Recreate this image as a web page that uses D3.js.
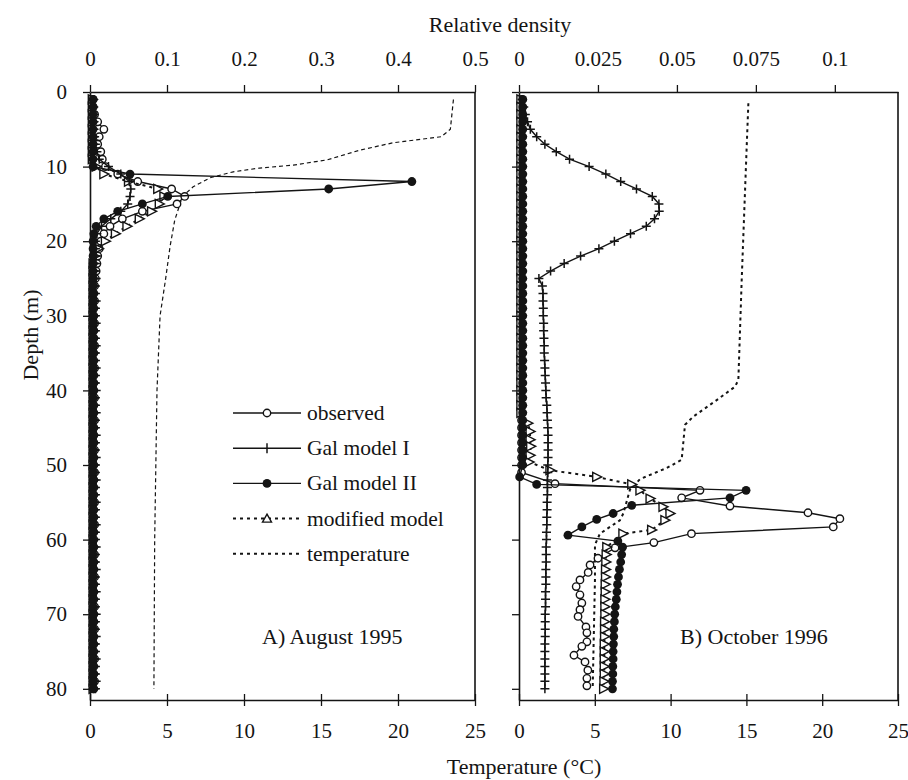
<!DOCTYPE html>
<html>
<head>
<meta charset="utf-8">
<script src="https://cdn.jsdelivr.net/npm/d3@7"></script>
<style>
  body { margin: 0; background: #fff; }
  svg text { font-family: "Liberation Serif", "Tinos", "Times New Roman", "DejaVu Serif", serif !important; }
</style>
</head>
<body>
<div id="wrapper"></div>
<script>
// axis ticks
const depthTicks = [0, 10, 20, 30, 40, 50, 60, 70, 80];
const tempTicks = [0, 5, 10, 15, 20, 25];
const densityTicksA = [0, 0.1, 0.2, 0.3, 0.4, 0.5];
const densityLabelsA = ["0", "0.1", "0.2", "0.3", "0.4", "0.5"];
const densityTicksB = [0, 0.025, 0.05, 0.075, 0.1];
const densityLabelsB = ["0", "0.025", "0.05", "0.075", "0.1"];

const legendNames = ["observed", "Gal model I", "Gal model II", "modified model", "temperature"];

// A) August 1995 : depth (m) and relative density
const depthA = [1,2,3,4,5,6,7,8,9,10,11,12,13,14,15,16,17,18,19,20,
  21,22,23,24,25,26,27,28,29,30,31,32,33,34,35,36,37,38,39,40,
  41,42,43,44,45,46,47,48,49,50,51,52,53,54,55,56,57,58,59,60,
  61,62,63,64,65,66,67,68,69,70,71,72,73,74,75,76,77,78,79,80];
const observedA = [0.004,0.004,0.006,0.010,0.018,0.012,0.010,0.014,0.016,0.020,
  0.036,0.062,0.106,0.123,0.113,0.068,0.042,0.026,0.018,0.014,
  0.012,0.010,0.009,0.008,0.007,0.006,0.005,0.006,0.005,0.005,
  0.006,0.005,0.005,0.006,0.005,0.005,0.006,0.005,0.005,0.005,
  0.006,0.005,0.005,0.006,0.005,0.005,0.005,0.006,0.005,0.005,
  0.006,0.005,0.005,0.005,0.006,0.005,0.005,0.006,0.005,0.005,
  0.005,0.006,0.005,0.005,0.006,0.005,0.005,0.005,0.006,0.005,
  0.005,0.006,0.005,0.005,0.005,0.006,0.005,0.005,0.006,0.005];
const galIA = [0.004,0.004,0.004,0.005,0.005,0.006,0.007,0.009,0.012,0.024,
  0.040,0.051,0.053,0.052,0.049,0.040,0.027,0.015,0.009,0.007,
  0.007,0.008,0.007,0.007,0.008,0.007,0.007,0.008,0.007,0.007,
  0.008,0.007,0.007,0.008,0.007,0.007,0.008,0.007,0.007,0.008,
  0.007,0.007,0.008,0.007,0.007,0.008,0.007,0.007,0.008,0.007,
  0.007,0.008,0.007,0.007,0.008,0.007,0.007,0.008,0.007,0.007,
  0.008,0.007,0.007,0.008,0.007,0.007,0.008,0.007,0.007,0.008,
  0.007,0.007,0.008,0.007,0.007,0.008,0.007,0.007,0.008,0.007];
const galIIA = [0.004,0.004,0.004,0.004,0.004,0.004,0.004,0.004,0.004,0.004,
  0.052,0.418,0.310,0.101,0.068,0.036,0.018,0.008,0.005,0.004,
  0.004,0.004,0.004,0.004,0.004,0.004,0.004,0.004,0.004,0.004,
  0.004,0.004,0.004,0.004,0.004,0.004,0.004,0.004,0.004,0.004,
  0.004,0.004,0.004,0.004,0.004,0.004,0.004,0.004,0.004,0.004,
  0.004,0.004,0.004,0.004,0.004,0.004,0.004,0.004,0.004,0.004,
  0.004,0.004,0.004,0.004,0.004,0.004,0.004,0.004,0.004,0.004,
  0.004,0.004,0.004,0.004,0.004,0.004,0.004,0.004,0.004,0.004];
const modifiedA = [0.003,0.003,0.003,0.003,0.003,0.003,0.003,0.003,0.003,0.008,
  0.018,0.050,0.088,0.096,0.090,0.080,0.064,0.048,0.033,0.020,
  0.011,0.006,0.004,0.004,0.004,0.004,0.004,0.004,0.004,0.004,
  0.004,0.004,0.004,0.004,0.004,0.004,0.004,0.004,0.004,0.004,
  0.004,0.004,0.004,0.004,0.004,0.004,0.004,0.004,0.004,0.004,
  0.004,0.004,0.004,0.004,0.004,0.004,0.004,0.004,0.004,0.004,
  0.004,0.004,0.004,0.004,0.004,0.004,0.004,0.004,0.004,0.004,
  0.004,0.004,0.004,0.004,0.004,0.004,0.004,0.004,0.004,0.004];
// temperature (°C) profile A
const tempDepthA = [1, 5, 6, 6.8, 7.8, 9.1, 9.8, 10.2, 10.7, 11.5, 12.7, 14, 17.2, 20.7, 25.2, 30, 40, 60, 80];
const tempA = [23.6, 23.4, 22.8, 19.7, 17.5, 15.4, 13.2, 11.0, 9.3, 7.8, 6.7, 6.0, 5.5, 5.2, 4.9, 4.55, 4.35, 4.2, 4.15];

// B) October 1996
const depthB = [1,2,3,4,5,6,7,8,9,10,11,12,13,14,15,16,17,18,19,20,
  21,22,23,24,25,26,27,28,29,30,31,32,33,34,35,36,37,38,39,40,
  41,42,43,44,45,46,47,48,49,50,51,52,53,54,55,56,57,58,59,60,
  61,62,63,64,65,66,67,68,69,70,71,72,73,74,75,76,77,78,79,80];
const galIB = [0.0010,0.0015,0.0020,0.0027,0.0036,0.0056,0.0082,0.0118,0.0160,0.0222,
  0.0275,0.0322,0.0372,0.0422,0.0443,0.0444,0.0429,0.0403,0.0353,0.0302,
  0.0253,0.0195,0.0143,0.0100,0.0063,0.0074,0.0076,0.0076,0.0077,0.0077,
  0.0078,0.0078,0.0079,0.0080,0.0080,0.0081,0.0082,0.0083,0.0084,0.0085,
  0.0086,0.0088,0.0089,0.0090,0.0091,0.0092,0.0092,0.0092,0.0092,0.0091,
  0.0091,0.0090,0.0090,0.0090,0.0089,0.0089,0.0088,0.0088,0.0087,0.0087,
  0.0086,0.0086,0.0086,0.0085,0.0085,0.0085,0.0084,0.0084,0.0084,0.0083,
  0.0083,0.0083,0.0083,0.0082,0.0082,0.0082,0.0082,0.0082,0.0082,0.0082];

const obsDepthB = [1,2,3,4,5,6,7,8,9,10,11,12,13,14,15,16,17,18,19,20,
  21,22,23,24,25,26,27,28,29,30,31,32,33,34,35,36,37,38,39,40,
  41,42,43,44,45,46,47,48,49,50,51,
  52.5,53.4,54.4,55.5,56.4,57.2,58.3,59.2,60.4,61.1,62.5,63.4,64.4,65.4,66.3,67.4,68.5,
  69.4,70.3,71.7,72.5,73.7,74.3,75.5,76.4,77.5,78.6,79.6];
const observedB = [0.0008,0.0008,0.0008,0.0008,0.0008,0.0008,0.0008,0.0008,0.0008,0.0008,
  0.0008,0.0008,0.0008,0.0008,0.0008,0.0008,0.0008,0.0008,0.0008,0.0008,
  0.0008,0.0008,0.0008,0.0008,0.0008,0.0008,0.0008,0.0008,0.0008,0.0008,
  0.0008,0.0008,0.0008,0.0008,0.0008,0.0008,0.0008,0.0008,0.0008,0.0008,
  0.0008,0.0008,0.0008,0.0008,0.0008,0.0008,0.0008,0.0008,0.0008,0.0008,0.0008,
  0.0114,0.0573,0.0515,0.0668,0.0915,0.1016,0.0995,0.0546,0.0427,0.0304,0.0250,0.0225,
  0.0219,0.0193,0.0181,0.0193,0.0199,0.0193,0.0187,0.0212,0.0215,0.0215,0.0199,0.0174,
  0.0209,0.0218,0.0215,0.0215];

const galIIDepthB = [1,2,3,4,5,6,7,8,9,10,11,12,13,14,15,16,17,18,19,20,
  21,22,23,24,25,26,27,28,29,30,31,32,33,34,35,36,37,38,39,40,
  41,42,43,44,45,46,47,48,49,50,
  51.6,52.6,53.4,54.4,55.4,56.5,57.3,58.3,59.4,60.2,
  61,62,63,64,65,66,67,68,69,70,71,72,73,74,75,76,77,78,79,80];
const galIIB = [0.0012,0.0012,0.0012,0.0012,0.0012,0.0012,0.0012,0.0012,0.0012,0.0012,
  0.0012,0.0012,0.0012,0.0012,0.0012,0.0012,0.0012,0.0012,0.0012,0.0012,
  0.0012,0.0012,0.0012,0.0012,0.0012,0.0012,0.0012,0.0012,0.0012,0.0012,
  0.0012,0.0012,0.0012,0.0012,0.0012,0.0012,0.0012,0.0012,0.0012,0.0012,
  0.0012,0.0012,0.0012,0.0012,0.0012,0.0012,0.0012,0.0012,0.0012,0.0012,
  0.0002,0.0056,0.0719,0.0668,0.0357,0.0298,0.0246,0.0199,0.0155,0.0313,
  0.0328,0.0325,0.0322,0.0318,0.0315,0.0312,0.0310,0.0308,0.0305,0.0303,
  0.0302,0.0300,0.0300,0.0299,0.0298,0.0298,0.0297,0.0297,0.0296,0.0296];

const modDepthB = [1,2,3,4,5,6,7,8,9,10,11,12,13,14,15,16,17,18,19,20,
  21,22,23,24,25,26,27,28,29,30,31,32,33,34,35,36,37,38,39,40,41,42,43,
  44.4,45.5,46.6,47.5,48.7,49.6,50.7,51.6,52.6,53.4,54.5,55.6,56.5,57.4,58.7,59.2,
  61,62,63,64,65,66,67,68,69,70,71,72,73,74,75,76,77,78,79,80];
const modifiedB = [0.0006,0.0006,0.0006,0.0006,0.0006,0.0006,0.0006,0.0006,0.0006,0.0006,
  0.0006,0.0006,0.0006,0.0006,0.0006,0.0006,0.0006,0.0006,0.0006,0.0006,
  0.0006,0.0006,0.0006,0.0006,0.0006,0.0006,0.0006,0.0006,0.0006,0.0006,
  0.0006,0.0006,0.0006,0.0006,0.0006,0.0006,0.0006,0.0006,0.0006,0.0006,0.0006,0.0006,0.0006,
  0.0028,0.0035,0.0035,0.0037,0.0035,0.0032,0.0098,0.0246,0.0357,0.0383,0.0415,0.0456,0.0478,0.0462,0.0420,0.0329,
  0.0278,0.0276,0.0275,0.0274,0.0274,0.0273,0.0273,0.0272,0.0272,0.0272,
  0.0271,0.0271,0.0271,0.0270,0.0270,0.0270,0.0270,0.0270,0.0269,0.0268];

const tempDepthB = [1.5, 7.3, 25.2, 38.6, 39.5, 41.3, 43.5, 44.6, 49.3, 50.4, 51.9, 53.3, 56.5, 57.4, 59.2, 60.7, 65.4, 80];
const tempB = [15.13, 15.02, 14.69, 14.47, 14.25, 13.04, 11.5, 10.95, 10.73, 9.74, 7.98, 7.32, 6.88, 6.66, 5.34, 5.01, 5.01, 4.86];

const ink = "#141414";

const dimensions = { width: 908, height: 780, top: 92, bottom: 700 };

const wrapper = d3.select("#wrapper")
  .append("svg")
  .attr("width", dimensions.width)
  .attr("height", dimensions.height);

const yScale = d3.scaleLinear()
  .domain([0, 81.5])
  .range([dimensions.top, dimensions.bottom]);

const panels = [
  {
    left: 90, right: 475, densityMax: 0.5,
    densityTicks: densityTicksA, densityLabels: densityLabelsA,
    depthLabels: true, label: "A) August 1995", labelX: 262,
    observed: [depthA, observedA], galI: [depthA, galIA], galII: [depthA, galIIA],
    modified: [depthA, modifiedA], temperature: [tempDepthA, tempA],
    tempWidth: 1.2, tempDash: "4,3",
  },
  {
    left: 519, right: 898, densityMax: 0.12,
    densityTicks: densityTicksB, densityLabels: densityLabelsB,
    depthLabels: false, label: "B) October 1996", labelX: 680,
    observed: [obsDepthB, observedB], galI: [depthB, galIB], galII: [galIIDepthB, galIIB],
    modified: [modDepthB, modifiedB], temperature: [tempDepthB, tempB],
    tempWidth: 2, tempDash: "3,3.5",
  },
];

// marker shapes
function addMarker(g, type, x, y, legend) {
  if (type === "open") {
    g.append("circle").attr("cx", x).attr("cy", y).attr("r", 3.7)
      .attr("fill", "#fff").attr("stroke", ink).attr("stroke-width", 1.4);
  } else if (type === "filled") {
    g.append("circle").attr("cx", x).attr("cy", y).attr("r", 4.4).attr("fill", ink);
  } else if (type === "cross") {
    const p = legend ? `M${x},${y - 5}V${y + 5}` : `M${x - 4.5},${y}H${x + 4.5}M${x},${y - 4.5}V${y + 4.5}`;
    g.append("path").attr("d", p).attr("stroke", ink).attr("stroke-width", 1.5);
  } else if (type === "tri") {
    const p = legend
      ? `M${x},${y - 4.5}L${x + 4.5},${y + 3.5}L${x - 4.5},${y + 3.5}Z`
      : `M${x - 4},${y - 4.5}L${x + 5},${y}L${x - 4},${y + 4.5}Z`;
    g.append("path").attr("d", p).attr("fill", "#fff").attr("stroke", ink).attr("stroke-width", 1.4);
  }
}

function drawSeries(g, [depths, values], xScale, style) {
  const pts = depths.map((d, i) => [xScale(values[i]), yScale(d)]);
  g.append("path")
    .attr("d", d3.line()(pts))
    .attr("fill", "none")
    .attr("stroke", ink)
    .attr("stroke-width", style.width)
    .attr("stroke-dasharray", style.dash || null);
  if (style.marker) {
    const mg = g.append("g");
    pts.forEach(([x, y]) => addMarker(mg, style.marker, x, y, false));
  }
}

panels.forEach((p) => {
  const densityScale = d3.scaleLinear().domain([0, p.densityMax]).range([p.left, p.right]);
  const tempScale = d3.scaleLinear().domain([0, 25]).range([p.left, p.right]);
  const bounds = wrapper.append("g");

  // series: temperature first, filled circles last
  const seriesGroup = bounds.append("g");
  drawSeries(seriesGroup, p.temperature, tempScale, { width: p.tempWidth, dash: p.tempDash });
  drawSeries(seriesGroup, p.observed, densityScale, { width: 1.4, marker: "open" });
  drawSeries(seriesGroup, p.modified, densityScale, { width: 2, dash: "3,4", marker: "tri" });
  drawSeries(seriesGroup, p.galI, densityScale, { width: 1.4, marker: "cross" });
  drawSeries(seriesGroup, p.galII, densityScale, { width: 1.4, marker: "filled" });

  // top axis: relative density
  const topAxis = bounds.append("g")
    .attr("transform", `translate(0, ${dimensions.top})`)
    .call(d3.axisTop(densityScale)
      .tickValues(p.densityTicks)
      .tickFormat((d, i) => p.densityLabels[i])
      .tickSizeInner(7).tickSizeOuter(0).tickPadding(19));

  // bottom axis: temperature, ticks cross the line
  const bottomAxis = bounds.append("g")
    .attr("transform", `translate(0, ${dimensions.bottom})`)
    .call(d3.axisBottom(tempScale)
      .tickValues(tempTicks)
      .tickSizeInner(6).tickSizeOuter(0));
  bottomAxis.selectAll(".tick line").attr("y1", -6).attr("y2", 6);
  bottomAxis.selectAll(".tick text").attr("y", 38).attr("dy", null);

  // left axis: depth
  const leftAxis = bounds.append("g")
    .attr("transform", `translate(${p.left}, 0)`)
    .call(d3.axisLeft(yScale)
      .tickValues(depthTicks)
      .tickSizeInner(7).tickSizeOuter(0).tickPadding(16)
      .tickFormat(p.depthLabels ? d3.format("d") : () => ""));

  // right border
  bounds.append("line")
    .attr("x1", p.right).attr("x2", p.right)
    .attr("y1", dimensions.top).attr("y2", dimensions.bottom)
    .attr("stroke", ink).attr("stroke-width", 1.6);

  [topAxis, bottomAxis, leftAxis].forEach((ax) => {
    ax.attr("font-family", null);
    ax.select(".domain").attr("stroke", ink).attr("stroke-width", 1.6);
    ax.selectAll(".tick line").attr("stroke", ink).attr("stroke-width", 1.3);
    ax.selectAll(".tick text")
      .attr("fill", ink)
      .style("font-size", "21px");
  });

  bounds.append("text")
    .attr("x", p.labelX)
    .attr("y", 644)
    .attr("fill", ink)
    .style("font-size", "22px")
    .text(p.label);
});

// axis titles
wrapper.append("text")
  .attr("x", 500).attr("y", 32)
  .attr("text-anchor", "middle")
  .attr("fill", ink)
  .style("font-size", "22px")
  .text("Relative density");

wrapper.append("text")
  .attr("x", 524).attr("y", 774)
  .attr("text-anchor", "middle")
  .attr("fill", ink)
  .style("font-size", "22px")
  .text("Temperature (°C)");

wrapper.append("text")
  .attr("transform", "translate(30, 335) rotate(-90)")
  .attr("text-anchor", "middle")
  .attr("dy", "0.35em")
  .attr("fill", ink)
  .style("font-size", "22px")
  .text("Depth (m)");

// legend inside panel A
const legendStyles = [
  { marker: "open", dash: null, width: 1.4 },
  { marker: "cross", dash: null, width: 1.4 },
  { marker: "filled", dash: null, width: 1.4 },
  { marker: "tri", dash: "3,4", width: 2 },
  { marker: null, dash: "3,4", width: 2 },
];
const legend = wrapper.append("g");
legendNames.forEach((name, i) => {
  const y = 413 + i * 35.2;
  const row = legend.append("g");
  row.append("line")
    .attr("x1", 233).attr("x2", 301)
    .attr("y1", y).attr("y2", y)
    .attr("stroke", ink)
    .attr("stroke-width", legendStyles[i].width)
    .attr("stroke-dasharray", legendStyles[i].dash);
  if (legendStyles[i].marker) addMarker(row, legendStyles[i].marker, 267, y, true);
  row.append("text")
    .attr("x", 307).attr("y", y + 7)
    .attr("fill", ink)
    .style("font-size", "21.5px")
    .text(name);
});
</script>
</body>
</html>
